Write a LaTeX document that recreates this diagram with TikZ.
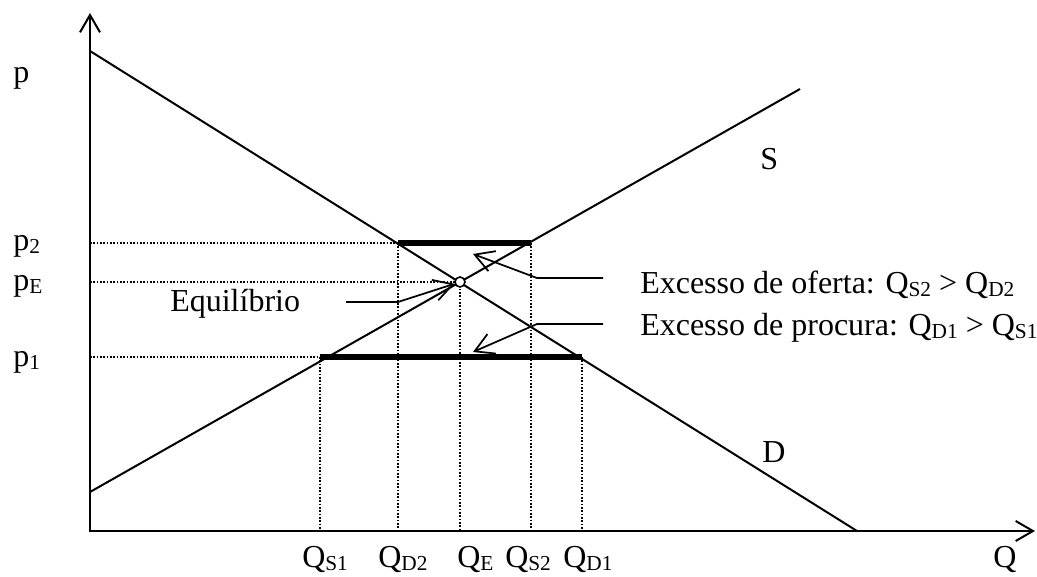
\documentclass[tikz,border=0pt]{standalone}
\usepackage{fontspec}
\setmainfont{Liberation Serif}
\usetikzlibrary{positioning,arrows.meta}
\newcommand{\lowsub}[1]{\raisebox{-0.1em}{\fontsize{16}{16}\selectfont #1}}

\begin{document}
\begin{tikzpicture}[x=0.75pt, y=-0.75pt,
    font=\fontsize{24}{28}\selectfont,
      axis/.style = {line width=1.5pt, {Straight Barb[length=13pt,width=15pt]}-{Straight Barb[length=13pt,width=15pt]}},% the two axes
     curve/.style = {line width=1.5pt},% supply and demand
     guide/.style = {line width=1.1pt, dash pattern=on 1.2pt off 1.3pt},% dotted guides
       bar/.style = {line width=3.8pt},% excess bars
   pointer/.style = {line width=1.3pt, -{Straight Barb[length=14pt,width=16pt]}},% label arrows
       lbl/.style = {inner sep=0pt, anchor=base west}% text labels
    ]
    \useasboundingbox (0,0) rectangle (1037,577);
    % axes
    \coordinate (O) at (90,531);
    \coordinate (ytop) at (90,13);
    \coordinate (xend) at (1035,531);
    \draw[axis] (ytop) -- (O) -- (xend);
    % demand and supply
    \coordinate (d0) at (90,51);
    \coordinate (d1) at (857,531);
    \coordinate (s0) at (90,492);
    \coordinate (s1) at (800,89);
    \draw[curve] (d0) -- (d1);
    \draw[curve] (s0) -- (s1);
    % excess bars
    \coordinate (b2a) at (398,243);
    \coordinate (b2b) at (531,243);
    \coordinate (b1a) at (320,357);
    \coordinate (b1b) at (582,357);
    \draw[bar] (b2a) -- (b2b);
    \draw[bar] (b1a) -- (b1b);
    % dotted guides
    \coordinate (y2) at (90,243);
    \coordinate (yE) at (90,282);
    \coordinate (y1) at (90,357);
    \draw[guide] (y2) -- (b2a);
    \draw[guide] (yE) -- (460,282);
    \draw[guide] (y1) -- (b1a);
    \draw[guide] (b1a) -- (b1a |- O);
    \draw[guide] (b2a) -- (b2a |- O);
    \draw[guide] (460,282) -- (460,531);
    \draw[guide] (b2b) -- (b2b |- O);
    \draw[guide] (b1b) -- (b1b |- O);
    % equilibrium point
    \node (eq) [circle, draw, line width=1.2pt, fill=white, inner sep=0pt, minimum size=7.5pt] at (460,282) {};
    % labels
    \node (lp) [lbl] at (13,83) {p};
    \node (lp2) [lbl] at (13,250) {p\lowsub{2}};
    \node (lpE) [lbl] at (13,290) {p\lowsub{E}};
    \node (lp1) [lbl] at (13,366) {p\lowsub{1}};
    \node (lQS1) [lbl] at (302,567) {Q\lowsub{S1}};
    \node (lQD2) [lbl] at (378,567) {Q\lowsub{D2}};
    \node (lQE) [lbl] at (457,567) {Q\lowsub{E}};
    \node (lQS2) [lbl] at (505,567) {Q\lowsub{S2}};
    \node (lQD1) [lbl] at (563,567) {Q\lowsub{D1}};
    \node (lQ) [lbl] at (993,567) {Q};
    \node (lS) [lbl] at (760,170) {S};
    \node (lD) [lbl] at (762,462) {D};
    \node (leq) [lbl] at (170,311) {Equilíbrio};
    \node (lofe) [lbl] at (640,293) {Excesso de oferta: Q\lowsub{S2} > Q\lowsub{D2}};
    \node (lpro) [lbl] at (640,335) {Excesso de procura: Q\lowsub{D1} > Q\lowsub{S1}};
    % pointers
    \coordinate (eqa) at (346,302);
    \coordinate (eqb) at (398,302);
    \draw[pointer] (eqa) -- (eqb) -- (eq);
    \coordinate (ofa) at (603,278);
    \coordinate (ofb) at (537,278);
    \coordinate (oft) at (473,254);
    \draw[pointer] (ofa) -- (ofb) -- (oft);
    \coordinate (pra) at (603,324);
    \coordinate (prb) at (537,324);
    \coordinate (prt) at (473,352);
    \draw[pointer] (pra) -- (prb) -- (prt);
\end{tikzpicture}
\end{document}
